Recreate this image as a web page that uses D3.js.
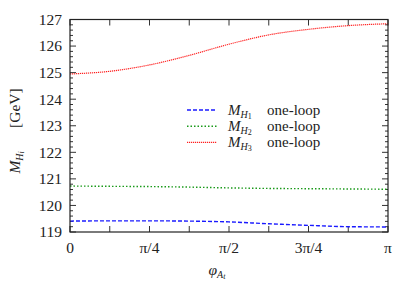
<!DOCTYPE html>
<html>
<head>
<meta charset="utf-8">
<script src="https://cdn.jsdelivr.net/npm/d3@7"></script>
<style>
  body { margin: 0; background: #fff; }
</style>
</head>
<body>
<svg id="chart" width="407" height="285"></svg>
<script>
// phase values at steps of pi/8
const phiSteps = [0, 1, 2, 3, 4, 5, 6, 7, 8];
const mH1 = [119.41, 119.42, 119.42, 119.41, 119.38, 119.31, 119.25, 119.20, 119.19];
const mH2 = [120.73, 120.72, 120.71, 120.69, 120.66, 120.64, 120.63, 120.62, 120.61];
const mH3 = [124.95, 125.05, 125.29, 125.65, 126.07, 126.42, 126.63, 126.77, 126.84];
const seriesNames = ["1", "2", "3"];
const xTickLabels = ["0", "π/4", "π/2", "3π/4", "π"];
const yTicks = [119, 120, 121, 122, 123, 124, 125, 126, 127];

(function () {
    const svg = d3.select("#chart")
        .attr("font-family", "'Liberation Serif', 'Times New Roman', serif");
    const margin = { top: 19.5, right: 19, bottom: 53, left: 70 };
    const width = 407 - margin.left - margin.right;
    const height = 285 - margin.top - margin.bottom;

    const x = d3.scaleLinear().domain([0, Math.PI]).range([0, width]);
    const y = d3.scaleLinear().domain([119, 127]).range([height, 0]);

    const g = svg.append("g")
        .attr("transform", `translate(${margin.left},${margin.top})`);

    // minor + major y ticks on both sides
    const yMinor = d3.range(119, 127.001, 0.2);
    const tickColor = "#333";
    yMinor.forEach(v => {
        const major = Math.abs(v - Math.round(v)) < 1e-6;
        const len = major ? 6 : 3;
        g.append("line").attr("x1", 0).attr("x2", len)
            .attr("y1", y(v)).attr("y2", y(v)).attr("stroke", tickColor);
        g.append("line").attr("x1", width).attr("x2", width - len)
            .attr("y1", y(v)).attr("y2", y(v)).attr("stroke", tickColor);
    });

    // x ticks every pi/8, bottom and top
    phiSteps.forEach(s => {
        const xv = x(s * Math.PI / 8);
        g.append("line").attr("x1", xv).attr("x2", xv)
            .attr("y1", height).attr("y2", height - 6).attr("stroke", tickColor);
        g.append("line").attr("x1", xv).attr("x2", xv)
            .attr("y1", 0).attr("y2", 6).attr("stroke", tickColor);
    });

    // y tick labels
    g.selectAll("text.ylab")
        .data(yTicks)
        .enter().append("text")
        .attr("class", "ylab")
        .attr("x", -8)
        .attr("y", d => y(d))
        .attr("dy", "0.35em")
        .attr("text-anchor", "end")
        .attr("fill", "#222")
        .attr("font-size", "15.5px")
        .text(d => d);

    // x tick labels
    g.selectAll("text.xlab")
        .data(xTickLabels)
        .enter().append("text")
        .attr("class", "xlab")
        .attr("x", (d, i) => x(i * Math.PI / 4))
        .attr("y", height + 21)
        .attr("text-anchor", "middle")
        .attr("fill", "#222")
        .attr("font-size", "15.5px")
        .text(d => d);

    // curves
    const styles = [
        { data: mH1, color: "#1a1aff", dash: "4,2", w: 1.4 },
        { data: mH2, color: "#1a9a1a", dash: "1.5,2", w: 1.4 },
        { data: mH3, color: "#ff2020", dash: "1.2,0.8", w: 1.2 }
    ];
    const line = d3.line()
        .x((d, i) => x(phiSteps[i] * Math.PI / 8))
        .y(d => y(d))
        .curve(d3.curveMonotoneX);

    styles.forEach(s => {
        g.append("path")
            .attr("d", line(s.data))
            .attr("fill", "none")
            .attr("stroke", s.color)
            .attr("stroke-width", s.w)
            .attr("stroke-dasharray", s.dash);
    });

    // frame
    g.append("rect")
        .attr("width", width).attr("height", height)
        .attr("fill", "none").attr("stroke", "#222").attr("stroke-width", 1.2);

    // legend
    const leg = svg.append("g").attr("transform", "translate(187,110)");
    styles.forEach((s, i) => {
        const row = leg.append("g").attr("transform", `translate(0,${i * 16.2})`);
        row.append("line").attr("x1", 0).attr("x2", 30)
            .attr("stroke", s.color).attr("stroke-width", s.w)
            .attr("stroke-dasharray", s.dash);
        const t = row.append("text").attr("x", 41).attr("y", 5)
            .attr("fill", "#222").attr("font-size", "15px");
        t.append("tspan").attr("font-style", "italic").text("M");
        t.append("tspan").attr("font-style", "italic").attr("font-size", "10px").attr("dy", 2.5).text("H");
        t.append("tspan").attr("font-size", "8px").attr("dy", 1.5).text(seriesNames[i]);
        t.append("tspan").attr("x", 80).attr("dy", -4).text("one-loop");
    });

    // y axis label
    const yl = svg.append("text")
        .attr("transform", "translate(20,131) rotate(-90)")
        .attr("text-anchor", "middle")
        .attr("fill", "#222")
        .attr("font-size", "15.5px");
    yl.append("tspan").attr("font-style", "italic").text("M");
    yl.append("tspan").attr("font-style", "italic").attr("font-size", "10px").attr("dy", 2.5).text("H");
    yl.append("tspan").attr("font-style", "italic").attr("font-size", "8px").attr("dy", 1.5).text("i");
    yl.append("tspan").attr("dy", -4).text("\u2003\u2002[GeV]");

    // x axis label
    const xl = svg.append("text")
        .attr("x", 217).attr("y", 275)
        .attr("text-anchor", "middle")
        .attr("fill", "#222")
        .attr("font-size", "15.5px");
    xl.append("tspan").attr("font-style", "italic").text("φ");
    xl.append("tspan").attr("font-style", "italic").attr("font-size", "10px").attr("dy", 2.5).text("A");
    xl.append("tspan").attr("font-style", "italic").attr("font-size", "8px").attr("dy", 1.5).text("t");
})();
</script>
</body>
</html>
